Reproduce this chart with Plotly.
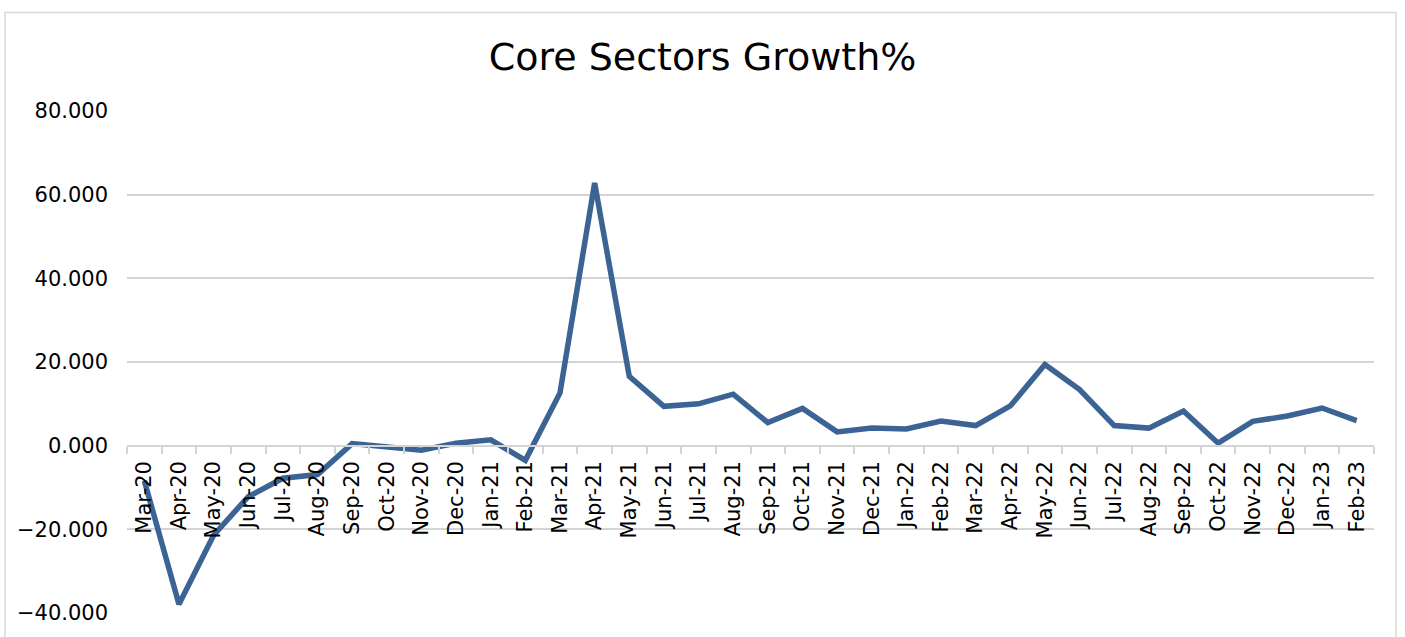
import plotly.graph_objects as go

months = ["Mar-20", "Apr-20", "May-20", "Jun-20", "Jul-20", "Aug-20", "Sep-20", "Oct-20",
          "Nov-20", "Dec-20", "Jan-21", "Feb-21", "Mar-21", "Apr-21", "May-21", "Jun-21",
          "Jul-21", "Aug-21", "Sep-21", "Oct-21", "Nov-21", "Dec-21", "Jan-22", "Feb-22",
          "Mar-22", "Apr-22", "May-22", "Jun-22", "Jul-22", "Aug-22", "Sep-22", "Oct-22",
          "Nov-22", "Dec-22", "Jan-23", "Feb-23"]
growth = [-8.4, -37.9, -21.4, -12.2, -7.8, -6.9, 0.5, -0.3,
          -1.1, 0.6, 1.4, -3.5, 12.6, 62.8, 16.6, 9.4,
          10.0, 12.3, 5.5, 8.9, 3.3, 4.2, 4.0, 5.9,
          4.8, 9.5, 19.4, 13.4, 4.8, 4.2, 8.3, 0.6,
          5.8, 7.1, 9.0, 6.0]

W, H = 1405, 637
L, R, T, B = 127, 1374, 111, 615   # plot area in pixels

fig = go.Figure()
fig.add_trace(go.Scatter(x=months, y=growth, mode="lines",
                         line=dict(color="#3B6394", width=5.5), hoverinfo="x+y"))

grid = "#D4D4D4"
fig.update_layout(
    width=W, height=H,
    margin=dict(l=L, r=W - R, t=T, b=H - B, pad=0),
    paper_bgcolor="white", plot_bgcolor="white",
    showlegend=False,
    font=dict(family="DejaVu Sans, Verdana, sans-serif", color="#000000"),
    title=dict(text="Core Sectors Growth%", x=702.5 / W, xref="container", xanchor="center",
               y=1 - 57 / H, yref="container", yanchor="middle",
               font=dict(size=38, color="#000000")),
    xaxis=dict(type="category", range=[-0.5, len(months) - 0.5],
               anchor="free", position=40 / 120,
               showline=True, linecolor=grid, linewidth=2,
               ticks="outside", tickson="boundaries", ticklen=7, tickcolor=grid, tickwidth=2,
               ticklabelstandoff=6,
               tickangle=-90, tickfont=dict(size=21, color="#000000"),
               showgrid=False, zeroline=False),
    yaxis=dict(range=[-40, 80], dtick=20, tick0=0, tickformat=".3f",
               showgrid=True, gridcolor=grid, gridwidth=2,
               zeroline=False, showline=False, ticks="",
               ticklabelstandoff=18,
               tickfont=dict(size=21, color="#000000")),
)

# chart-area border
pw, ph = R - L, B - T
fig.add_shape(type="rect", xref="paper", yref="paper",
              x0=(5 - L) / pw, x1=(1396 - L) / pw,
              y0=(B - 700) / ph, y1=(B - 12) / ph,
              line=dict(color="#D9D9D9", width=1.5), fillcolor="rgba(0,0,0,0)", layer="below")

fig.write_html("out.html")
